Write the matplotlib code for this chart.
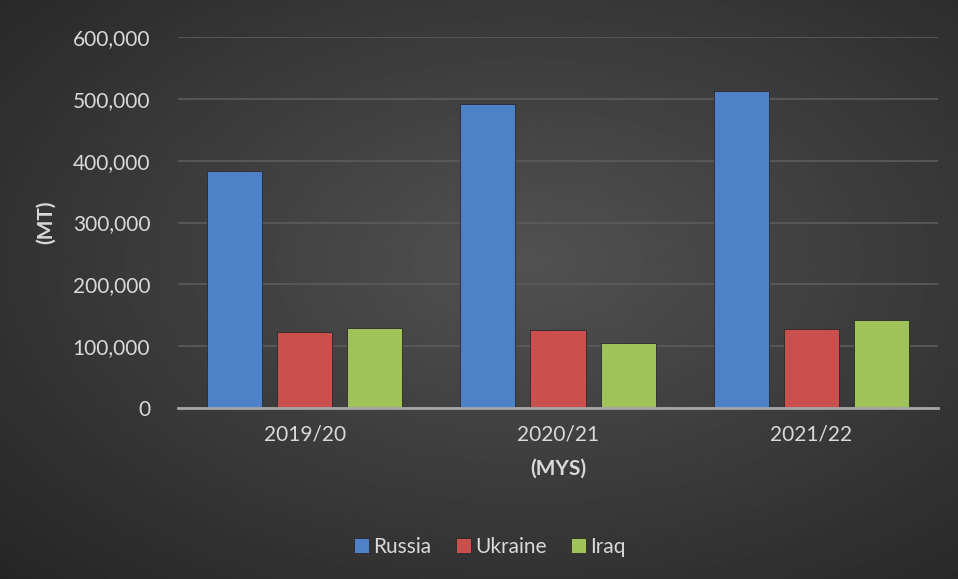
import numpy as np
import matplotlib.pyplot as plt
from matplotlib.ticker import FuncFormatter

years = ["2019/20", "2020/21", "2021/22"]
russia = [383000, 491000, 513000]
ukraine = [123000, 125500, 128000]
iraq = [129500, 105000, 143000]

series = [("Russia", russia, "#4f81c9"),
          ("Ukraine", ukraine, "#c9504d"),
          ("Iraq", iraq, "#9fc25a")]

plt.rcParams['font.family'] = ['Lato', 'DejaVu Sans']
txt = "#d9d9d9"

fig = plt.figure(figsize=(9.58, 5.79), dpi=100)

# dark radial background like the Excel chart style
bg = fig.add_axes([0, 0, 1, 1])
yy, xx = np.mgrid[0:1:300j, 0:1:500j]
r = np.sqrt(((xx - 0.55) / 0.9) ** 2 + ((yy - 0.55) / 0.9) ** 2)
bg.imshow(0.32 - 0.2 * np.clip(r, 0, 1), cmap="gray", vmin=0, vmax=1,
          aspect="auto", extent=[0, 1, 0, 1], origin="lower")
bg.set_axis_off()

ax = fig.add_axes([178 / 958, 1 - 408 / 579, 760 / 958, 371 / 579])
ax.patch.set_alpha(0)

x = np.arange(len(years))
w = 0.218
step = 0.277
for i, (name, vals, col) in enumerate(series):
    ax.bar(x + (i - 1) * step, vals, width=w, color=col, label=name,
           edgecolor="#2a2a2a", linewidth=0.6, zorder=3)

ax.set_xlim(-0.5, 2.5)
ax.set_ylim(0, 600000)
ax.set_yticks(np.arange(0, 600001, 100000))
ax.yaxis.set_major_formatter(FuncFormatter(lambda v, p: f"{int(v):,}"))
ax.grid(axis="y", color="#5c5c5c", linewidth=1.2, zorder=0)
ax.set_xticks(x)
ax.set_xticklabels(years)
ax.tick_params(colors=txt, labelsize=15, length=0)
ax.tick_params(axis="x", pad=12)
ax.tick_params(axis="y", pad=20)
for s in ["top", "right", "left"]:
    ax.spines[s].set_visible(False)
ax.spines["bottom"].set_color("#a6a6a6")
ax.spines["bottom"].set_linewidth(2)
ax.spines["bottom"].set_zorder(4)

ax.set_ylabel("(MT)", color=txt, fontsize=15, fontweight="bold", labelpad=12)
ax.set_xlabel("(MYS)", color=txt, fontsize=15, fontweight="bold", labelpad=10)

ax.legend(loc="center", bbox_to_anchor=(490 / 958, 1 - 547 / 579),
          bbox_transform=fig.transFigure, ncol=3, frameon=False,
          labelcolor=txt, fontsize=15, handlelength=0.7, handleheight=0.7,
          handletextpad=0.2, columnspacing=1.2)

fig.savefig("out.png", dpi=100)
